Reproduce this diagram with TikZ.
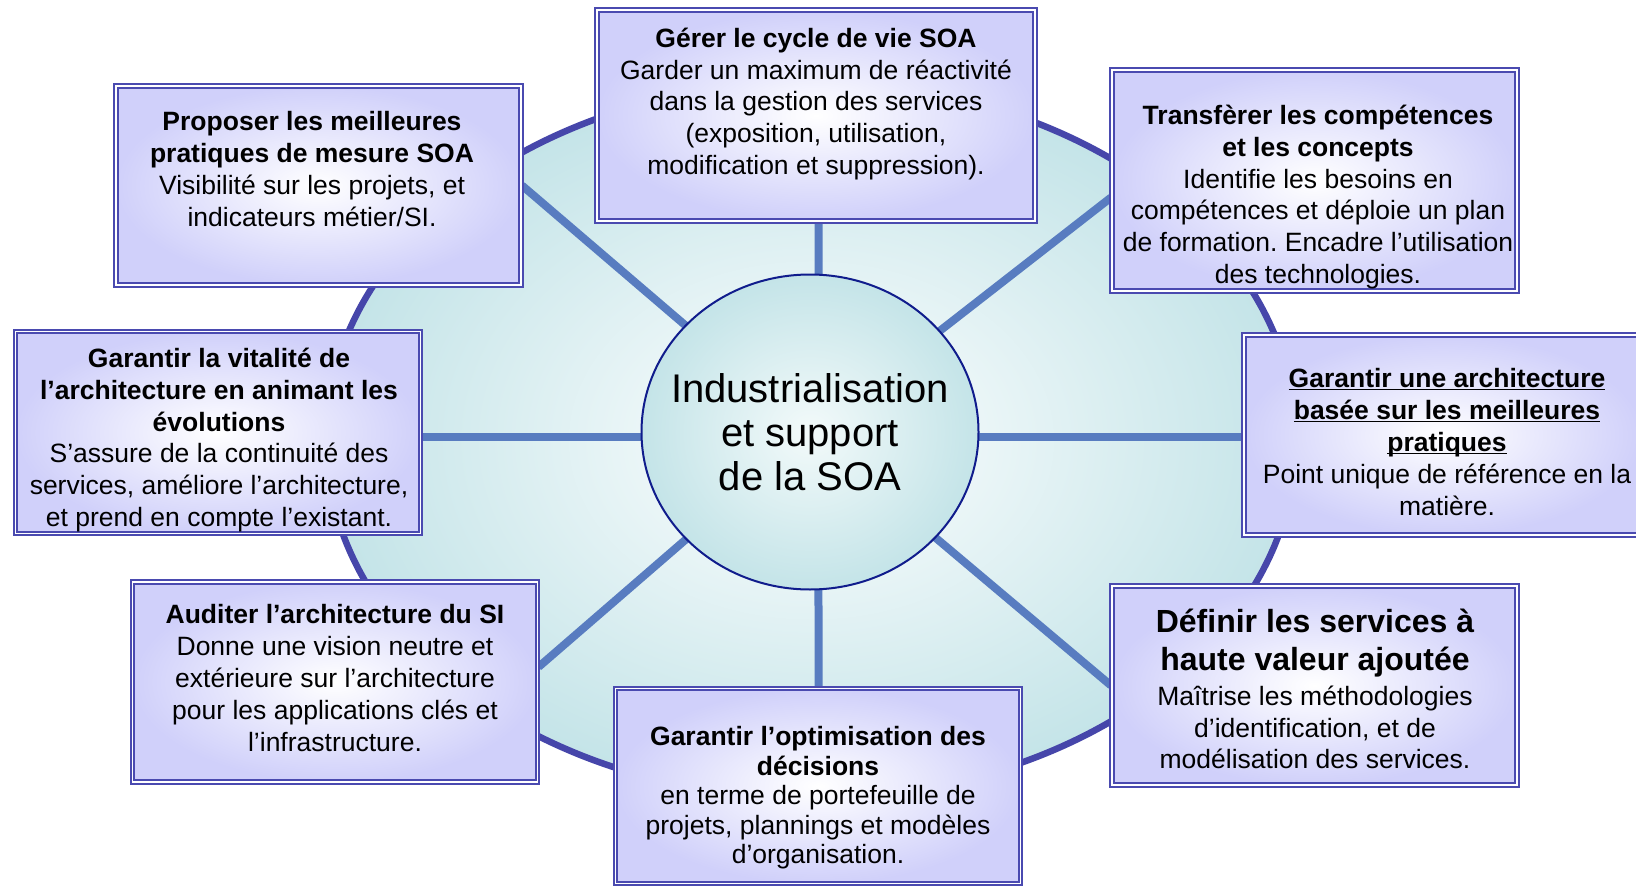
\documentclass[tikz,border=0pt]{standalone}
\usepackage{fontspec}
\setmainfont{Liberation Sans}
\frenchspacing
\usetikzlibrary{shapes.geometric,backgrounds}

\definecolor{boxblue}{RGB}{74,74,176}
\definecolor{boxfill}{RGB}{208,208,250}
\definecolor{rimblue}{RGB}{70,70,170}
\definecolor{discfill}{RGB}{196,228,232}
\definecolor{spokeblue}{RGB}{88,124,192}
\definecolor{hubline}{RGB}{16,28,140}
\definecolor{hubcore}{RGB}{243,250,250}

\newcommand{\souligne}[1]{\underline{\raisebox{0pt}[\height][0pt]{#1}}}
\newcommand{\grand}{\fontsize{32}{38.6}\selectfont\bfseries}

\tikzset{
  mission/.style={rectangle,draw=boxblue,line width=2pt,double=white,double distance=1.8pt,inner color=white,outer color=boxfill},
  blurb/.style={align=center,inner sep=0pt,font=\fontsize{26.5}{31.8}\selectfont},
  spoke/.style={draw=spokeblue,line width=8pt}
}

\begin{document}
\begin{tikzpicture}[x=1pt,y=-1pt]
\useasboundingbox (0,0) rectangle (1636,888);

\node (hub) at (810,432) [ellipse,draw=hubline,line width=2pt,inner color=hubcore,outer color=discfill,minimum width=337,minimum height=315,inner sep=0pt] {};
\node (core) at (hub) [align=center,inner sep=0pt,font=\fontsize{40}{44}\selectfont] {Industrialisation\\et support\\de la SOA};

\node (b1) at (816,115.5) [mission,minimum width=438,minimum height=211] {};
\node (b2) at (318.5,185.5) [mission,minimum width=405,minimum height=199] {};
\node (b3) at (1314.5,180.5) [mission,minimum width=405,minimum height=221] {};
\node (b4) at (218,432.5) [mission,minimum width=405,minimum height=202] {};
\node (b5) at (1443,435) [mission,minimum width=398,minimum height=200] {};
\node (b6) at (335,682) [mission,minimum width=405,minimum height=200] {};
\node (b7) at (818,786) [mission,minimum width=405,minimum height=195] {};
\node (b8) at (1314.5,685.5) [mission,minimum width=405,minimum height=199] {};

\node (t1) at (816,104) [blurb] {\textbf{Gérer le cycle de vie SOA}\\Garder un maximum de réactivité\\dans la gestion des services\\(exposition, utilisation,\\modification et suppression).};
\node (t2) at (312,169) [blurb] {\textbf{Proposer les meilleures}\\\textbf{pratiques de mesure SOA}\\Visibilité sur les projets, et\\indicateurs métier/SI.};
\node (t3) at (1318,197) [blurb] {\textbf{Transfèrer les compétences}\\\textbf{et les concepts}\\Identifie les besoins en\\compétences et déploie un plan\\de formation. Encadre l’utilisation\\des technologies.};
\node (t4) at (219,440) [blurb] {\textbf{Garantir la vitalité de}\\\textbf{l’architecture en animant les}\\\textbf{évolutions}\\S’assure de la continuité des\\services, améliore l’architecture,\\et prend en compte l’existant.};
\node (t5) at (1447,442) [blurb] {\textbf{\souligne{Garantir une architecture}}\\\textbf{\souligne{basée sur les meilleures}}\\\textbf{\souligne{pratiques}}\\Point unique de référence en la\\matière.};
\node (t6) at (335,678) [blurb] {\textbf{Auditer l’architecture du SI}\\Donne une vision neutre et\\extérieure sur l’architecture\\pour les applications clés et\\l’infrastructure.};
\node (t7) at (818,798) [blurb,font=\fontsize{26.5}{29.5}\selectfont] {\textbf{Garantir l’optimisation des}\\\textbf{décisions}\\en terme de portefeuille de\\projets, plannings et modèles\\d’organisation.};
\node (t8) at (1315,689) [blurb] {{\grand Définir les services à}\\[6.8pt]{\grand haute valeur ajoutée}\\[2.7pt]Maîtrise les méthodologies\\d’identification, et de\\modélisation des services.};

\begin{scope}[on background layer]
\fill[white] (0,0) rectangle (1636,888);
\node (disc) at (811,440) [ellipse,draw=rimblue,line width=6.5pt,inner color=white,outer color=discfill,minimum width=970,minimum height=716] {};
\draw[spoke] ([xshift=8pt]hub.center) -- ([xshift=3pt]b1.center);
\draw[spoke] (hub.center) -- (b2.east);
\draw[spoke] (hub.center) -- ([yshift=-17pt]b3.west);
\draw[spoke] ([yshift=-5pt]hub.center) -- ([yshift=-4.5pt]b4.center);
\draw[spoke] ([yshift=-5pt]hub.center) -- ([yshift=-2pt]b5.center);
\draw[spoke] (hub.center) -- ([yshift=15pt]b6.east);
\draw[spoke] ([xshift=8pt]hub.center) -- ([xshift=1pt]b7.center);
\draw[spoke] (hub.center) -- (b8.west);
\end{scope}
\end{tikzpicture}
\end{document}
